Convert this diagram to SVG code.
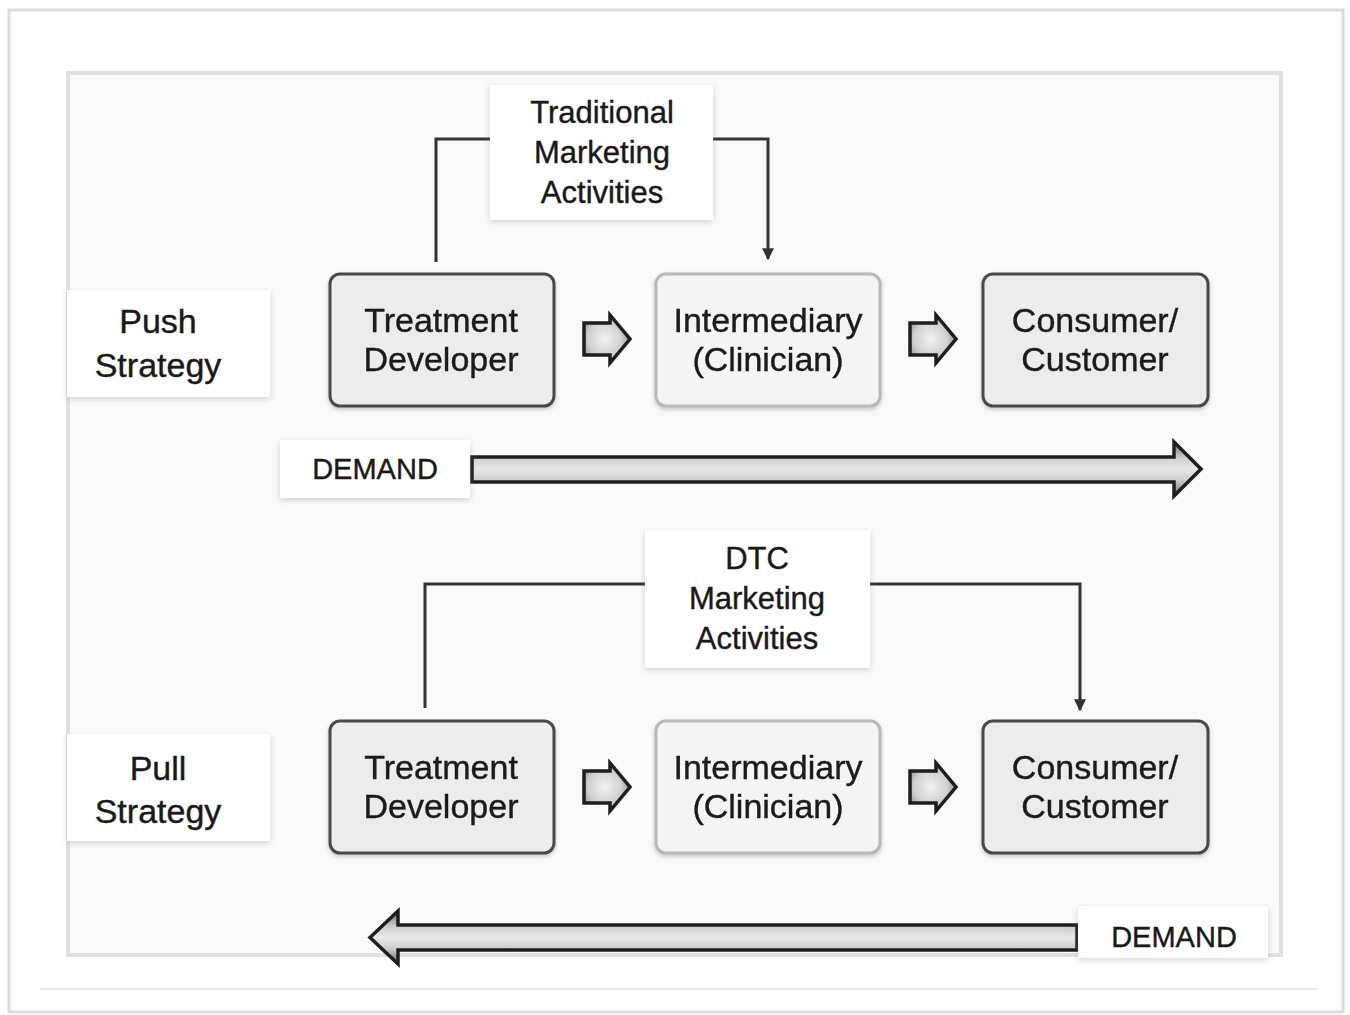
<svg xmlns="http://www.w3.org/2000/svg" width="1350" height="1015" viewBox="0 0 1350 1015">
<style>
  .t{font-family:"Liberation Sans",Arial,sans-serif;fill:#1a1a1a;text-anchor:middle;stroke:#1a1a1a;stroke-width:0.4}
  .n{font-size:34px}
  .m{font-size:31px}
  .d{font-size:29px}
  .dark{fill:#ececec;stroke:#4a4a4a;stroke-width:3}
  .light{fill:#f4f4f4;stroke:#b8b8b8;stroke-width:3}
  .lbl{fill:#ffffff;filter:url(#sh)}
  .conn{fill:none;stroke:#333;stroke-width:3}
  .blk{fill:url(#g);stroke:#1e1e1e;stroke-width:3.5;stroke-linejoin:miter}
</style>
<defs>
  <filter id="sh" x="-10%" y="-10%" width="120%" height="130%">
    <feDropShadow dx="0" dy="2" stdDeviation="3" flood-color="#888" flood-opacity="0.35"/>
  </filter>
  <filter id="bs" x="-10%" y="-10%" width="120%" height="130%">
    <feDropShadow dx="0" dy="2" stdDeviation="2" flood-color="#777" flood-opacity="0.4"/>
  </filter>
  <linearGradient id="g" x1="0" y1="0" x2="0" y2="1">
    <stop offset="0" stop-color="#6e6e6e"/>
    <stop offset="0.3" stop-color="#cfcfcf"/>
    <stop offset="0.5" stop-color="#e8e8e8"/>
    <stop offset="0.7" stop-color="#cfcfcf"/>
    <stop offset="1" stop-color="#6e6e6e"/>
  </linearGradient>
  <radialGradient id="rg" cx="0.45" cy="0.5" r="0.6">
    <stop offset="0" stop-color="#f2f2f2"/>
    <stop offset="0.6" stop-color="#d0d0d0"/>
    <stop offset="1" stop-color="#8a8a8a"/>
  </radialGradient>
  <marker id="ah" viewBox="0 0 10 10" refX="9" refY="5" markerWidth="4" markerHeight="4" orient="auto">
    <path d="M0,0 L10,5 L0,10 Z" fill="#333"/>
  </marker>
</defs>

<rect x="0" y="0" width="1350" height="1015" fill="#ffffff"/>
<rect x="9" y="10" width="1334" height="1002" fill="#ffffff" stroke="#dcdcdc" stroke-width="3"/>
<line x1="40" y1="989" x2="1318" y2="989" stroke="#ececec" stroke-width="2"/>
<rect x="68" y="73" width="1213" height="882" fill="#fafafa" stroke="#e0e0e0" stroke-width="4"/>

<g id="connectors">
  <path class="conn" d="M436,262 V139 H490"/>
  <path class="conn" d="M713,139 H768 V259" marker-end="url(#ah)"/>
  <path class="conn" d="M425,708 V584 H645"/>
  <path class="conn" d="M870,584 H1080 V710" marker-end="url(#ah)"/>
  <path class="blk" style="fill:url(#rg)" d="M584,323 H610 V315 L630,339 L610,363 V355 H584 Z"/>
  <path class="blk" style="fill:url(#rg)" d="M910,323 H936 V315 L956,339 L936,363 V355 H910 Z"/>
  <path class="blk" style="fill:url(#rg)" d="M584,771 H610 V763 L630,787 L610,811 V803 H584 Z"/>
  <path class="blk" style="fill:url(#rg)" d="M910,771 H936 V763 L956,787 L936,811 V803 H910 Z"/>
  <path class="blk" d="M472,457 H1174 V442 L1201,469 L1174,496 V482 H472 Z"/>
  <path class="blk" d="M1077,925 H398 V911 L370,937.5 L398,964 V950 H1077 Z"/>
</g>

<g id="push-label">
  <rect class="lbl" x="67" y="290" width="203" height="107"/>
  <text class="t n" x="158" y="333">Push</text>
  <text class="t n" x="158" y="377">Strategy</text>
</g>
<g id="traditional">
  <rect class="lbl" x="490" y="85" width="223" height="135"/>
  <text class="t m" x="602" y="123">Traditional</text>
  <text class="t m" x="602" y="163">Marketing</text>
  <text class="t m" x="602" y="203">Activities</text>
</g>
<g id="push-developer" filter="url(#bs)">
  <rect class="dark" x="330" y="274" width="224" height="132" rx="10"/>
  <text class="t n" x="441" y="332">Treatment</text>
  <text class="t n" x="441" y="371">Developer</text>
</g>
<g id="push-intermediary" filter="url(#bs)">
  <rect class="light" x="656" y="274" width="224" height="132" rx="10"/>
  <text class="t n" x="768" y="332">Intermediary</text>
  <text class="t n" x="768" y="371">(Clinician)</text>
</g>
<g id="push-consumer" filter="url(#bs)">
  <rect class="dark" x="983" y="274" width="225" height="132" rx="10"/>
  <text class="t n" x="1095" y="332">Consumer/</text>
  <text class="t n" x="1095" y="371">Customer</text>
</g>
<g id="push-demand">
  <rect class="lbl" x="280" y="440" width="190" height="58"/>
  <text class="t d" x="375" y="479">DEMAND</text>
</g>

<g id="pull-label">
  <rect class="lbl" x="67" y="734" width="203" height="107"/>
  <text class="t n" x="158" y="780">Pull</text>
  <text class="t n" x="158" y="823">Strategy</text>
</g>
<g id="dtc">
  <rect class="lbl" x="645" y="530" width="225" height="138"/>
  <text class="t m" x="757" y="569">DTC</text>
  <text class="t m" x="757" y="609">Marketing</text>
  <text class="t m" x="757" y="649">Activities</text>
</g>
<g id="pull-developer" filter="url(#bs)">
  <rect class="dark" x="330" y="721" width="224" height="132" rx="10"/>
  <text class="t n" x="441" y="779">Treatment</text>
  <text class="t n" x="441" y="818">Developer</text>
</g>
<g id="pull-intermediary" filter="url(#bs)">
  <rect class="light" x="656" y="721" width="224" height="132" rx="10"/>
  <text class="t n" x="768" y="779">Intermediary</text>
  <text class="t n" x="768" y="818">(Clinician)</text>
</g>
<g id="pull-consumer" filter="url(#bs)">
  <rect class="dark" x="983" y="721" width="225" height="132" rx="10"/>
  <text class="t n" x="1095" y="779">Consumer/</text>
  <text class="t n" x="1095" y="818">Customer</text>
</g>
<g id="pull-demand">
  <rect class="lbl" x="1078" y="906" width="190" height="52"/>
  <text class="t d" x="1174" y="947">DEMAND</text>
</g>
</svg>
